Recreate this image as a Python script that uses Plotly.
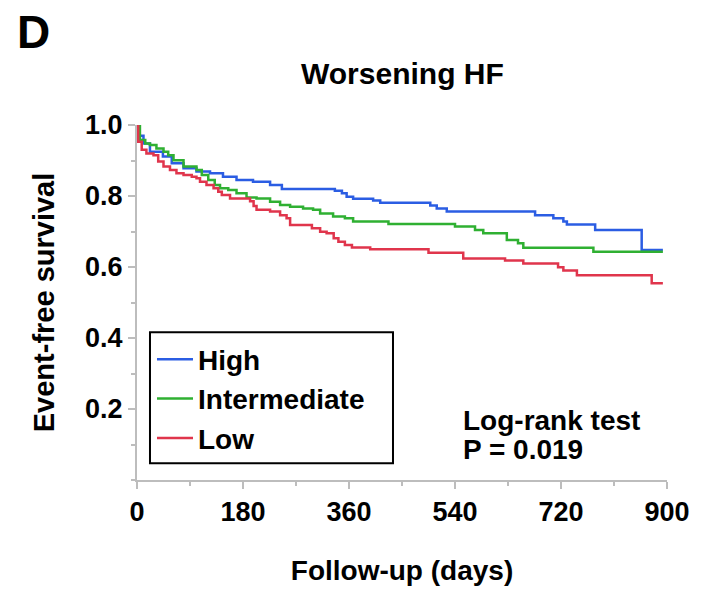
import plotly.graph_objects as go

# Kaplan-Meier step points: follow-up day at which survival changes, and new survival
high_days = [0, 3, 11, 22, 44, 59, 79, 101, 124, 146, 169, 197, 226, 246, 336, 348, 356, 367,
             401, 413, 498, 509, 526, 676, 707, 724, 730, 778, 857, 893]
high_surv = [1.0, 0.97, 0.948, 0.925, 0.911, 0.892, 0.878, 0.869, 0.864, 0.854, 0.845, 0.840,
             0.831, 0.820, 0.815, 0.808, 0.798, 0.792, 0.787, 0.781, 0.773, 0.765, 0.756, 0.746,
             0.737, 0.728, 0.720, 0.704, 0.648, 0.648]

mid_days = [0, 5, 14, 22, 33, 45, 53, 62, 79, 101, 110, 121, 132, 141, 155, 169, 186, 203, 226,
            243, 260, 282, 299, 311, 333, 353, 367, 427, 540, 574, 588, 628, 647, 656, 775, 893]
mid_surv = [1.0, 0.958, 0.948, 0.944, 0.934, 0.925, 0.915, 0.901, 0.883, 0.873, 0.859, 0.845,
            0.831, 0.822, 0.817, 0.808, 0.796, 0.793, 0.784, 0.775, 0.770, 0.765, 0.761, 0.751,
            0.742, 0.737, 0.728, 0.721, 0.714, 0.704, 0.695, 0.676, 0.667, 0.654, 0.643, 0.643]

low_days = [0, 2, 8, 16, 28, 36, 45, 56, 67, 79, 93, 101, 107, 118, 130, 138, 144, 158, 192, 198,
            203, 226, 243, 254, 260, 297, 311, 322, 334, 342, 353, 365, 396, 495, 554, 625, 656,
            715, 724, 747, 874, 893]
low_surv = [1.0, 0.953, 0.930, 0.920, 0.915, 0.897, 0.883, 0.873, 0.864, 0.859, 0.854, 0.850,
            0.840, 0.831, 0.822, 0.812, 0.803, 0.793, 0.785, 0.772, 0.761, 0.756, 0.746, 0.737,
            0.718, 0.709, 0.699, 0.695, 0.681, 0.671, 0.662, 0.655, 0.650, 0.640, 0.624, 0.618,
            0.610, 0.599, 0.590, 0.577, 0.554, 0.554]

group_names = ["High", "Intermediate", "Low"]
group_colors = ["#2b5de3", "#2fb032", "#e0354c"]

x_ticks = [0, 180, 360, 540, 720, 900]
y_ticks = [0.2, 0.4, 0.6, 0.8, 1.0]
y_tick_text = ["0.2", "0.4", "0.6", "0.8", "1.0"]

FONT = "Arial, Liberation Sans, Helvetica, sans-serif"

fig = go.Figure()
for name, color, d, s in zip(group_names, group_colors,
                             [high_days, mid_days, low_days],
                             [high_surv, mid_surv, low_surv]):
    fig.add_trace(go.Scatter(x=d, y=s, mode="lines", name=name,
                             line=dict(color=color, width=2.5, shape="hv")))

axis_common = dict(
    showline=True, linecolor="#bdbdbd", linewidth=2,
    ticks="outside", tickcolor="#bdbdbd", tickwidth=2, ticklen=7,
    showgrid=False, zeroline=False,
    tickfont=dict(family=FONT, size=27, color="black", weight="bold"),
)

fig.update_xaxes(
    range=[0, 900], tickvals=x_ticks, ticktext=[str(v) for v in x_ticks],
    minor=dict(ticks="outside", dtick=90, tick0=0, ticklen=4, tickcolor="#bdbdbd", tickwidth=2),
    title=dict(text="Follow-up (days)", standoff=34,
               font=dict(family=FONT, size=28, color="black", weight="bold")),
    **axis_common,
)
fig.update_yaxes(
    range=[0, 1.0], tickvals=y_ticks, ticktext=y_tick_text,
    minor=dict(ticks="outside", dtick=0.1, tick0=0, ticklen=4, tickcolor="#bdbdbd", tickwidth=2),
    title=dict(text="Event-free survival", standoff=22,
               font=dict(family=FONT, size=29, color="black", weight="bold")),
    **axis_common,
)

fig.add_annotation(text="D", xref="paper", yref="paper", x=-0.23, y=1.262,
                   xanchor="left", yanchor="middle", showarrow=False,
                   font=dict(family=FONT, size=46, color="black", weight="bold"))
fig.add_annotation(text="Worsening HF", xref="paper", yref="paper", x=0.5, y=1.145,
                   xanchor="center", yanchor="middle", showarrow=False,
                   font=dict(family=FONT, size=30, color="black", weight="bold"))
fig.add_annotation(text="Log-rank test", xref="paper", yref="paper", x=0.612, y=0.169,
                   xanchor="left", yanchor="middle", showarrow=False,
                   font=dict(family=FONT, size=28, color="black", weight="bold"))
fig.add_annotation(text="P = 0.019", xref="paper", yref="paper", x=0.612, y=0.086,
                   xanchor="left", yanchor="middle", showarrow=False,
                   font=dict(family=FONT, size=28, color="black", weight="bold"))

# Frame around the legend entries (wider than the legend's own auto-sized border)
fig.add_shape(type="rect", xref="paper", yref="paper",
              x0=0.0245, x1=0.483, y0=0.047, y1=0.416,
              line=dict(color="black", width=2), fillcolor="rgba(0,0,0,0)", layer="above")

fig.update_layout(
    width=706, height=592,
    margin=dict(l=137, r=39, t=125, b=112),
    paper_bgcolor="white", plot_bgcolor="white",
    legend=dict(x=0.0283, y=0.410, xanchor="left", yanchor="top",
                borderwidth=0, bgcolor="rgba(0,0,0,0)",
                font=dict(family=FONT, size=28, color="black", weight="bold"),
                itemwidth=36, tracegroupgap=0),
    showlegend=True,
)

fig.write_html("out.html")
